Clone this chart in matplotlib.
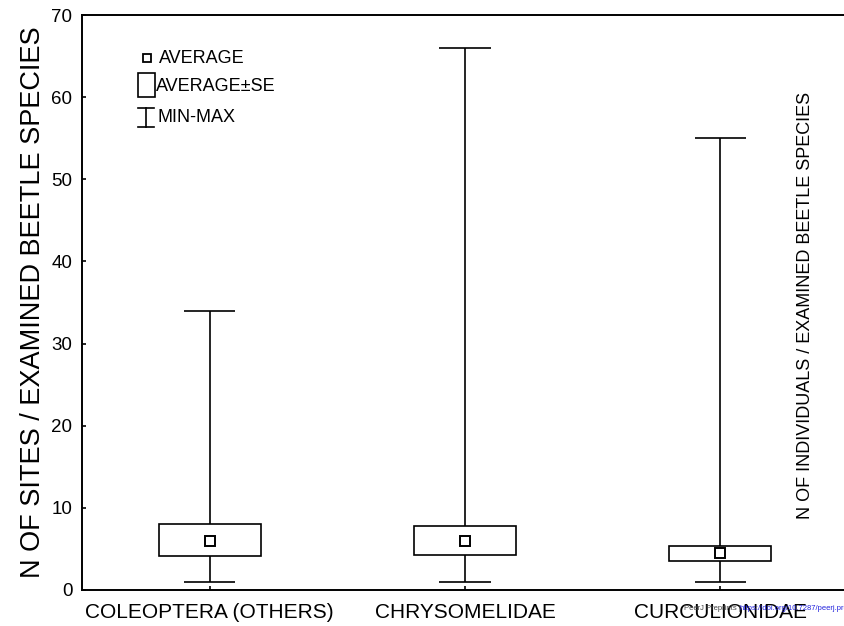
import matplotlib
matplotlib.use("Agg")
import matplotlib.pyplot as plt

# datos
grupos = ["COLEOPTERA (OTHERS)", "CHRYSOMELIDAE", "CURCULIONIDAE"]
promedio = [6.0, 6.0, 4.45]
se_bajo = [4.1, 4.25, 3.5]
se_alto = [8.0, 7.85, 5.4]
minimo = [1, 1, 1]
maximo = [34, 66, 55]

plt.rcParams['font.family'] = ['Liberation Sans', 'DejaVu Sans']

fig = plt.figure(figsize=(8.44, 6.26), dpi=100)
ax = fig.add_axes([82/844, 36/626, 766/844, 575/626])

x = range(1, len(grupos) + 1)

# bigotes min-max
ax.vlines(x, minimo, maximo, color='black', lw=1.2, zorder=1)
ax.hlines(minimo, [i - 0.1 for i in x], [i + 0.1 for i in x], color='black', lw=1.2)
ax.hlines(maximo, [i - 0.1 for i in x], [i + 0.1 for i in x], color='black', lw=1.2)

# cajas promedio +- SE
alturas = [a - b for a, b in zip(se_alto, se_bajo)]
ax.bar(x, alturas, bottom=se_bajo, width=0.4, facecolor='white',
       edgecolor='black', lw=1.2, zorder=2)

# promedio
ax.plot(x, promedio, 's', ms=6.5, mfc='white', mec='black', mew=1.4, ls='none', zorder=3)

ax.set_xlim(0.5, 3.5)
ax.set_ylim(0, 70)
ax.set_yticks(range(0, 71, 10))
ax.set_xticks(list(x))
ax.set_xticklabels(grupos, fontsize=15)
ax.tick_params(axis='both', direction='in', length=3, width=1.2, color='black')
ax.tick_params(axis='x', pad=9)
ax.tick_params(axis='y', labelsize=13.5, pad=7)
for s in ax.spines.values():
    s.set_linewidth(1.4)

ax.set_ylabel("N OF SITES / EXAMINED BEETLE SPECIES", fontsize=19.5, labelpad=4)

# texto de la derecha
fig.text(805/844, 1 - 305/626, "N OF INDIVIDUALS / EXAMINED BEETLE SPECIES",
         rotation=90, fontsize=13, ha='center', va='center')

# leyenda hecha a mano
t = ax.transAxes
ax.plot([0.0849], [0.925], 's', ms=5.5, mfc='white', mec='black', mew=1.3, transform=t)
ax.text(0.101, 0.925, "AVERAGE", fontsize=13, va='center', transform=t)
ax.add_patch(plt.Rectangle((0.0731, 0.857), 0.0222, 0.042, fill=False,
                           ec='black', lw=1.2, transform=t))
ax.text(0.097, 0.8765, "AVERAGE±SE", fontsize=13, va='center', transform=t)
ax.plot([0.0835, 0.0835], [0.806, 0.839], color='black', lw=1.2, transform=t)
ax.plot([0.0733, 0.0937], [0.806, 0.806], color='black', lw=1.2, transform=t)
ax.plot([0.0733, 0.0937], [0.839, 0.839], color='black', lw=1.2, transform=t)
ax.text(0.0985, 0.8226, "MIN-MAX", fontsize=13, va='center', transform=t)

# marca de agua PeerJ
fig.text(684/844, 1 - 608/626, "PeerJ Preprints | ", fontsize=5.5, color='#444444', va='center')
fig.text(740/844, 1 - 608/626, "https://doi.org/10.7287/peerj.preprints", fontsize=5.5,
         color='#2222dd', va='center')

plt.savefig('out.png', dpi=100)
